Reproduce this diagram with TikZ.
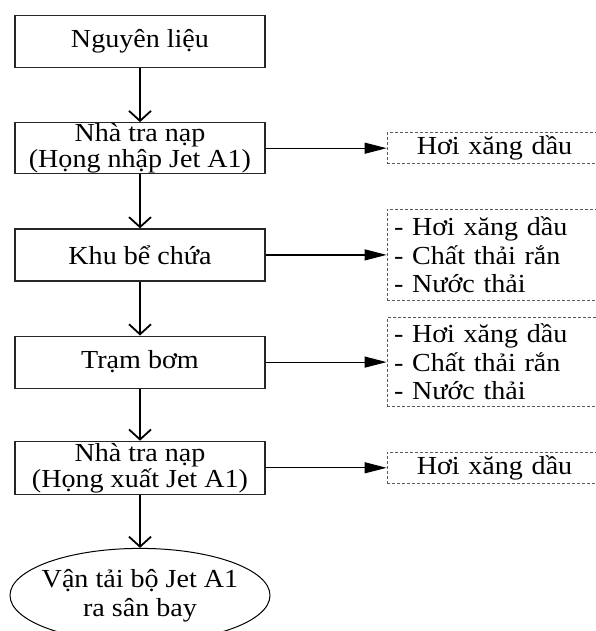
\documentclass[tikz,border=0pt]{standalone}
\usepackage{fontspec}
\setmainfont{Liberation Serif}[FakeStretch=1.08]
\usepackage{tikz}
\usetikzlibrary{positioning}
\usetikzlibrary{shapes}
\usetikzlibrary{arrows.meta}
\tikzset{procnode/.style={shape=rectangle, minimum width=250pt, minimum height=52pt, inner sep=0pt, draw=black!85, line width=1.2pt, align=center, font=\fontsize{26}{26}\selectfont},
  wastenode/.style={shape=rectangle, minimum width=215pt, text width=201pt, inner xsep=7pt, inner ysep=2pt, draw=black!65, line width=0.9pt, dash pattern=on 3pt off 2pt, font=\fontsize{26}{28.5}\selectfont},
  endnode/.style={shape=ellipse, minimum width=260pt, minimum height=94pt, inner sep=0pt, draw=black, line width=1pt},
  endtext/.style={align=center, font=\fontsize{26}{29}\selectfont},
  flow/.style={every edge/.append style={-{Straight Barb[length=10pt,width=22pt]}, line width=1.8pt}},
  emit/.style={every edge/.append style={-{Triangle[length=22pt,width=11pt]}, line width=1.2pt}}}

\begin{document}
\begin{tikzpicture}[x=1pt, y=-1pt]
    \useasboundingbox (0,0) rectangle (595,631);
    \node[procnode] (raw) at (140,41.5) {Nguyên liệu};
    \node[procnode, minimum height=51pt, below=54pt of raw] (load) {Nhà tra nạp\\(Họng nhập Jet A1)};
    \node[procnode, below=54pt of load] (tank) {Khu bể chứa};
    \node[procnode, below=54pt of tank] (pump) {Trạm bơm};
    \node[procnode, minimum height=53pt, below=52pt of pump] (unload) {Nhà tra nạp\\(Họng xuất Jet A1)};
    \node[endnode, below=53pt of unload, label={[endtext]center:Vận tải bộ Jet A1\\ra sân bay}] (haul) {};

    \node[wastenode, align=center, minimum height=31pt, right=121pt of load] (vap1) {Hơi xăng dầu};
    \node[wastenode, align=left, minimum height=91pt, right=121pt of tank] (mix1) {- Hơi xăng dầu\\- Chất thải rắn\\- Nước thải};
    \node[wastenode, align=left, minimum height=89pt, right=121pt of pump] (mix2) {- Hơi xăng dầu\\- Chất thải rắn\\- Nước thải};
    \node[wastenode, align=center, minimum height=31pt, right=121pt of unload] (vap2) {Hơi xăng dầu};

    \draw[flow]
    (raw) edge (load)
    (load) edge (tank)
    (tank) edge (pump)
    (pump) edge (unload)
    (unload) edge (haul);

    \draw[emit]
    (load) edge (vap1)
    (tank) edge (mix1)
    (pump) edge (mix2)
    (unload) edge (vap2);
  \end{tikzpicture}
\end{document}
